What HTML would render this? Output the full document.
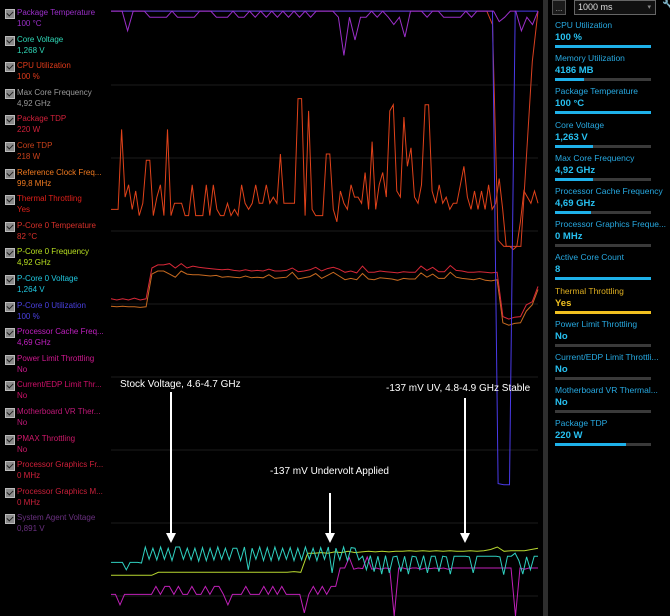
<!DOCTYPE html>
<html><head><meta charset="utf-8">
<style>
html,body{margin:0;width:670px;height:616px;overflow:hidden}
body{background:#000;font-family:"Liberation Sans",sans-serif;position:relative}
.li{position:absolute;left:0;width:108px;height:26px}
.cb{position:absolute;left:5px;top:1px;width:8px;height:8px;background:#8a8a8a;border:1px solid #bbb}
.cb:after{content:"";position:absolute;left:2px;top:0px;width:3px;height:5px;border:solid #222;border-width:0 1px 1px 0;transform:rotate(45deg)}
.lt{position:absolute;left:17px;top:0;font-size:8px;white-space:nowrap;line-height:10px}
.lv{position:absolute;left:17px;top:11px;font-size:8px;line-height:10px}
.ri{position:absolute;left:555px;width:100px}
.rl{font-size:8.5px;color:#27a9e1;white-space:nowrap}
.rv{font-size:9.5px;font-weight:bold;color:#27c0f0;margin-top:2px}
.rb{height:3px;background:#3a3a3a;margin-top:2px;width:96px;position:relative}
.rb i{position:absolute;left:0;top:0;height:3px;background:#1eb1ea}
.ann{position:absolute;color:#fff;font-size:10px;white-space:nowrap}
</style></head><body>
<div id="left"></div>
<div style="position:absolute;left:543px;top:0;width:5px;height:616px;background:#2e2e2e"></div>
<div style="position:absolute;left:552px;top:0;width:12px;height:13px;border:1px solid #555;background:#1a1a1a;color:#aaa;font-size:8px;text-align:center;line-height:16px">...</div>
<div style="position:absolute;left:574px;top:0;width:77px;height:13px;border:1px solid #666;background:#111;color:#ddd;font-size:9px;line-height:13px;padding-left:3px">1000 ms<span style="position:absolute;right:4px;color:#888;font-size:7px">▾</span></div>
<div style="position:absolute;left:662px;top:0;color:#27a9e1;font-size:10px">🔧</div>
<div id="right"></div>
<svg id="chart" width="670" height="616" style="position:absolute;left:0;top:0"></svg>
<div class="ann" style="left:120px;top:379px">Stock Voltage, 4.6-4.7 GHz</div>
<div class="ann" style="left:386px;top:383px">-137 mV UV, 4.8-4.9 GHz Stable</div>
<div class="ann" style="left:270px;top:466px">-137 mV Undervolt Applied</div>
<script>
const leftNames=["Package Temperature","Core Voltage","CPU Utilization","Max Core Frequency","Package TDP","Core TDP","Reference Clock Freq...","Thermal Throttling","P-Core 0 Temperature","P-Core 0 Frequency","P-Core 0 Voltage","P-Core 0 Utilization","Processor Cache Freq...","Power Limit Throttling","Current/EDP Limit Thr...","Motherboard VR Ther...","PMAX Throttling","Processor Graphics Fr...","Processor Graphics M...","System Agent Voltage"];
const leftVals=["100 °C","1,268 V","100 %","4,92 GHz","220 W","218 W","99,8 MHz","Yes","82 °C","4,92 GHz","1,264 V","100 %","4,69 GHz","No","No","No","No","0 MHz","0 MHz","0,891 V"];
const leftColors=["#9b2fc9","#2fd9b8","#e03a1a","#9a9a9a","#d0203a","#c8401a","#f07a20","#e0201a","#d8302a","#b8e020","#20c8e0","#4a40e0","#c020c0","#d01890","#d0106a","#c01878","#d0186a","#d0203a","#c8203a","#6a3080"];
const L=document.getElementById('left');
leftNames.forEach((n,i)=>{const d=document.createElement('div');d.className='li';d.style.top=(8+i*26.6)+'px';


d.innerHTML='<div class="cb"></div><div class="lt" style="color:'+leftColors[i]+'">'+n+'</div><div class="lv" style="color:'+leftColors[i]+'">'+leftVals[i]+'</div>';L.appendChild(d);});
const rNames=["CPU Utilization","Memory Utilization","Package Temperature","Core Voltage","Max Core Frequency","Processor Cache Frequency","Processor Graphics Freque...","Active Core Count","Thermal Throttling","Power Limit Throttling","Current/EDP Limit Throttli...","Motherboard VR Thermal...","Package TDP"];
const rVals=["100 %","4186  MB","100 °C","1,263 V","4,92 GHz","4,69 GHz","0 MHz","8","Yes","No","No","No","220 W"];
const rFill=[100,30,100,40,40,38,0,100,100,0,0,0,74];
const R=document.getElementById('right');
rNames.forEach((n,i)=>{const d=document.createElement('div');d.className='ri';d.style.top=(20+i*33.2)+'px';


const y=i==8;d.innerHTML='<div class="rl" style="'+(y?'color:#e0b020':'')+'">'+n+'</div><div class="rv" style="'+(y?'color:#f0c020':'')+'">'+rVals[i]+'</div><div class="rb"><i style="width:'+rFill[i]+'%;'+(y?'background:#f0c020':'')+'"></i></div>';R.appendChild(d);});

const pkgTemp=[98.2,98.2,98.2,95,98.2,98.2,98.2,97.2,97.2,97.2,97.2,98.2,97.2,97.2,97.2,97.2,98.2,98.2,98.2,97.2,97.2,97.2,98.2,97.2,97.2,98.2,97.2,98.2,97.2,98.2,97.2,98.2,97.2,98.2,97.2,98.2,97.2,98.2,98.2,98.2,98.2,97.2,91,97.2,93.5,97.2,97.2,98.2,97.2,98.2,97.2,96,97.2,94,98.2,98.2,98.2,97.2,98.2,98.2,97.2,97.2,97.2,97.2,98.2,97.2,98.2,98.2,98.2,98.2,96.5,97.2,98.2,98.2,95,97.2,96,98.2];
const pkgTdp=[66,66,66,79,68,70,66,69,65,67,74,74,65,68,70,65,79,65,67,67,67,65,65,70,65,65,65,70,65,70,66,65,65,67,65,66,65,70,67,66,67,70,67,67,70,67,68,67,75,67,67,67,67,84,84,65,82,66,65,65,65,75,75,66,64,69,67,66,70,68,68,67,72,66,77,66,70,72,68,82,83,69,68,81,73,76,68,67,70,83,83,69,67,70,67,68,66,67,67,70,73,68,66,69,66,69,66,70,66,67,71,66,60,60,59.5,60,64,69,68,67,69,67];
const coreTemp=[51.5,51.3,51.5,51.3,51.6,51.3,51.5,56.5,57,57,57.2,56.5,57.2,56.5,56.8,56.6,56.5,56.4,56.3,56.2,56.3,56.1,56,56.2,56,56.1,56,56.3,56,56,56.1,56.5,55.9,56,56.2,56.6,56,56.4,56.6,56.3,55.8,56,55.7,56.8,55.8,55.8,56,55.9,55.8,55.7,55.9,55.8,55.8,56.8,56.1,56.6,55.9,55.9,56.9,56.1,56,55.8,55.8,55.9,55.8,55.7,55.8,48.6,48.2,48.5,48.6,50.5,51,53.5];
const coreTemp2=[50.3,50.2,50.3,50.2,50.2,50.1,50.2,55.5,56,56,55.5,55,56,55.5,55.4,55.4,55.3,55.2,55.3,55,55.1,55,54.9,55.2,54.9,55,54.9,55.4,54.8,54.9,55,55.8,54.7,54.9,55.1,55.6,54.8,55.3,55.8,55.2,54.6,54.8,54.6,55.6,54.7,54.6,54.9,54.8,54.7,54.5,54.8,54.7,54.7,55.7,55,55.5,54.8,54.8,55.8,55,54.8,54.7,54.6,54.8,54.5,54.4,54.6,47.6,47.2,47.5,47.6,49.5,50.5,53];
const cpuUtil=[98.2,98.2,98.2,98.2,98.2,98.2,98.2,98.2,98.2,98.2,98.2,98.2,98.2,98.2,98.2,98.2,98.2,98.2,98.2,98.2,98.2,98.2,98.2,98.2,98.2,98.2,98.2,98.2,98.2,98.2,98.2,98.2,98.2,98.2,98.2,98.2,98.2,98.2,98.2,98.2,98.2,98.2,98.2,98.2,98.2,98.2,98.2,98.2,98.2,98.2,98.2,98.2,98.2,98.2,98.2,98.2,98.2,98.2,98.2,98.2,98.2,98.2,98.2,98.2,98.2,98.2,98.2,96,61,60,60,60,60,75,90,98.2];
const coreUtil=[98.2,98.2,98.2,98.2,98.2,98.2,98.2,98.2,98.2,98.2,98.2,98.2,98.2,98.2,98.2,98.2,98.2,98.2,98.2,98.2,98.2,98.2,98.2,98.2,98.2,98.2,98.2,98.2,98.2,98.2,98.2,98.2,98.2,98.2,98.2,98.2,98.2,98.2,98.2,98.2,98.2,98.2,98.2,98.2,98.2,98.2,98.2,98.2,98.2,98.2,98.2,98.2,98.2,98.2,98.2,98.2,98.2,98.2,98.2,98.2,98.2,98.2,98.2,98.2,98.2,98.2,98.2,98.2,21.5,21.3,21.3,98.2,98.2,98.2,98.2,98.2];
const coreVolt=[8.7,8.7,8.7,8.7,7.5,8.7,8.7,8.7,8.6,11.2,9.2,11,9.1,11.2,9.2,11,9,11.2,11.2,9.2,11,9.1,11,8.9,11.1,9,11,9.1,11.2,9.2,11,9.1,11,11,9,11.2,7.5,11,9.2,11.2,9,11.1,9,11.2,9.1,11,9.2,11.1,9,11,9.1,11.2,9.2,11,9,11.1,9.2,11.2,7,11,9.1,11.2,9,11.1,11,9.1,9.7,7.5,9.8,7.2,9.7,6.8,9.8,7,9.6,9.7,7.2,9.7,6.8,9.7,9.6,7.6,9.8,7,9.7,9.7,7.2,9.7,9.6,6.8,9.7,9.7,9.7,9.7,9.6,7,9.7,9.7,9.7,9.7,9.7,9.7,9.6,6.7,9.7,9.7,10.2,9,6.8,9.6,7.5,9.7,9.7];
const coreFreq=[6.6,6.6,6.6,6.6,6.6,6.6,6.6,7.1,7.1,7.1,7.1,7.1,7.1,7.1,7.1,7.1,7.1,7.1,7.1,7.1,7.1,7.1,7.1,7.1,7.1,7.1,7.1,7.2,7.1,10.2,10.2,10.3,10.2,10.4,10.3,10.5,10.3,10.4,10.5,10.4,10.5,10.4,10.5,10.5,10.6,10.5,10.6,10.5,10.6,10.5,10.6,10.5,10.5,10.6,10.5,10.6,10.8,11.2,10.5,10.6,10.6,10.6,10.8,11];
const paVolt=[3.5,3.5,1.8,3.5,3.5,3.5,3.5,3.5,3.5,3.5,4.8,3.5,4.8,4.8,3.5,4.8,3.5,3.5,4.8,3.5,3.5,4.8,3.5,4.8,4.8,3.5,1.8,3.5,3.5,3.5,4.8,3.5,3.5,3.5,4.8,3.5,4.8,3.5,4.8,3.5,3.5,3.5,3.5,0.5,3.5,4.8,3.5,4.8,3.5,4.8,4.8,7.8,7.8,9.5,7.6,7.8,7.7,9.6,7.6,7.8,7.6,7.8,7.7,0,7.8,7.8,7.6,7.8,7.8,7.6,7.8,7.7,7.8,7.7,7.8,7.6,7.8,7.8,7.8,7.8,7.8,7.8,7.8,7.8,7.8,7.8,7.8,7.8,7.8,7.8,0,7.8,7.6,7.8,7.8,7.8];
const x0=111,x1=538,chartH=616;
function X(i,n){return x0+(x1-x0)*i/(n-1)}
function Y(v){return chartH-v*chartH/100}
const S=document.getElementById('chart'),NS='http://www.w3.org/2000/svg';
[85,158,231,304,377,450,523,596].forEach(g=>{const l=document.createElementNS(NS,'line');l.setAttribute('x1',x0);l.setAttribute('x2',x1);l.setAttribute('y1',g);l.setAttribute('y2',g);l.setAttribute('stroke','#1c1c1c');


S.appendChild(l);});
function line(arr,col,name){const p=document.createElementNS(NS,'polyline');p.setAttribute('points',arr.map((v,i)=>X(i,arr.length).toFixed(1)+','+Y(v).toFixed(1)).join(' '));p.setAttribute('fill','none');p.setAttribute('stroke',col);p.setAttribute('stroke-width','1');


S.appendChild(p);}
line(pkgTdp,'#e0421a','package-tdp-line');
line(coreTemp2,'#c86a20','core-tdp-line');
line(coreTemp,'#d82838','p-core-temp-line');
line(cpuUtil,'#d84020','cpu-utilization-line');
line(coreUtil,'#4a3ae8','p-core-utilization-line');
line(pkgTemp,'#9b2fc9','package-temperature-line');
line(paVolt,'#c020b8','cache-frequency-line');
line(coreFreq,'#b8d830','p-core-frequency-line');
line(coreVolt,'#2fd0c0','core-voltage-line');
[[171,392,543],[330,493,543],[465,398,543]].forEach(a=>{const l=document.createElementNS(NS,'line');l.setAttribute('x1',a[0]);l.setAttribute('x2',a[0]);l.setAttribute('y1',a[1]);l.setAttribute('y2',a[2]-8);l.setAttribute('stroke','#fff');l.setAttribute('stroke-width','2');


S.appendChild(l);const h=document.createElementNS(NS,'polygon');h.setAttribute('points',(a[0]-5)+','+(a[2]-10)+' '+(a[0]+5)+','+(a[2]-10)+' '+a[0]+','+a[2]);h.setAttribute('fill','#fff');


S.appendChild(h);});
</script>
</body></html>
